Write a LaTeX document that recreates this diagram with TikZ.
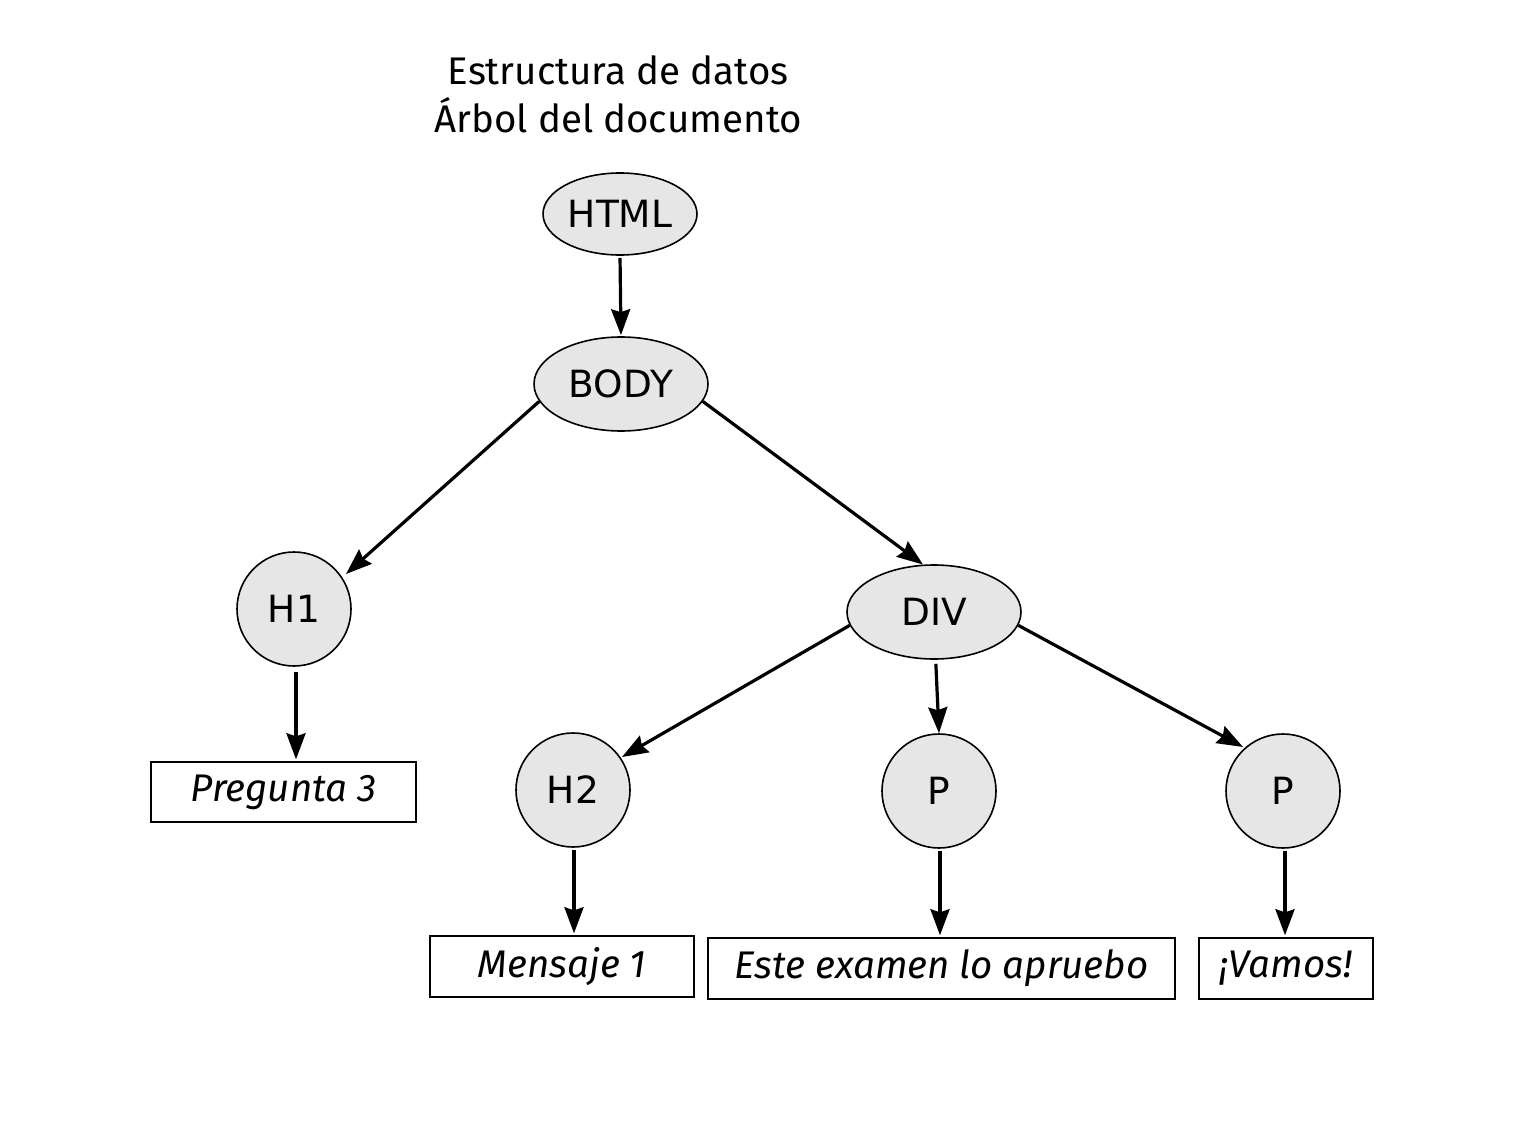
\documentclass[tikz,border=0pt]{standalone}
\usepackage{fontspec}
\setmainfont{Fira Sans}
\newfontfamily\nodefont{DejaVu Sans}
\usetikzlibrary{shapes.geometric,arrows.meta}
\definecolor{nodegray}{HTML}{E6E6E6}
\tikzset{
  elnode/.style={ellipse,draw=black,line width=1.6pt,fill=nodegray,inner sep=0pt,font=\nodefont\fontsize{37.5}{44}\selectfont},
  cinode/.style={circle,draw=black,line width=1.6pt,fill=nodegray,inner sep=0pt,minimum size=114pt,font=\nodefont\fontsize{37.5}{44}\selectfont},
  txtbox/.style={rectangle,draw=black,line width=1.4pt,fill=white,inner sep=0pt,minimum height=60pt,font=\itshape\fontsize{38.5}{44}\selectfont},
  conn/.style={line width=3.2pt,-{Stealth[length=26pt,width=19pt,inset=3pt]}},
}
\begin{document}
\begin{tikzpicture}[x=1pt,y=-1pt]
\useasboundingbox (0,0) rectangle (1515,1147);
\node[align=center,font=\fontsize{38.5}{48}\selectfont] (title) at (618,94) {Estructura de datos\\Árbol del documento};
\node[elnode,minimum width=154pt,minimum height=82pt] (html) at (620,214) {HTML};
\node[elnode,minimum width=174pt,minimum height=94pt] (body) at (621,384) {BODY};
\node[cinode] (h1) at (294,609) {H1};
\node[elnode,minimum width=174pt,minimum height=94pt] (div) at (934,612) {DIV};
\node[cinode] (h2) at (573,790) {H2};
\node[cinode] (p1) at (939,791) {P};
\node[cinode] (p2) at (1283,791) {P};
\node[txtbox,minimum width=265pt] (preg) at (283.5,792) {Pregunta 3};
\node[txtbox,minimum width=264pt,minimum height=61pt] (mens) at (562,966.5) {Mensaje 1};
\node[txtbox,minimum width=467pt,minimum height=61pt] (este) at (941.5,968.5) {Este examen lo apruebo};
\node[txtbox,minimum width=174pt,minimum height=61pt] (vamos) at (1286,968.5) {¡Vamos!};
\draw[conn,shorten <=2pt,shorten >=1pt] (html.south) -- (body.north);
\draw[conn] (body.192) -- ([shift={(52pt,35pt)}]h1.center) ;
\draw[conn] (body.348) -- (div.103);
\draw[conn,shorten <=5pt,shorten >=2pt] ([xshift=2pt]h1.south) -- ([xshift=2pt]h1.south |- preg.north);
\draw[conn] (div.189) -- ([shift={(49pt,33pt)}]h2.center);
\draw[conn,shorten <=4pt] (div.272) -- (p1.north);
\draw[conn] (div.351) -- ([shift={(-40pt,44pt)}]p2.center);
\draw[conn,shorten <=2pt,shorten >=2pt] ([xshift=1pt]h2.south) -- ([xshift=1pt]h2.south |- mens.north);
\draw[conn,shorten <=2pt,shorten >=2pt] ([xshift=1pt]p1.south) -- ([xshift=1pt]p1.south |- este.north);
\draw[conn,shorten <=2pt,shorten >=2pt] ([xshift=2pt]p2.south) -- ([xshift=2pt]p2.south |- vamos.north);
\end{tikzpicture}
\end{document}
